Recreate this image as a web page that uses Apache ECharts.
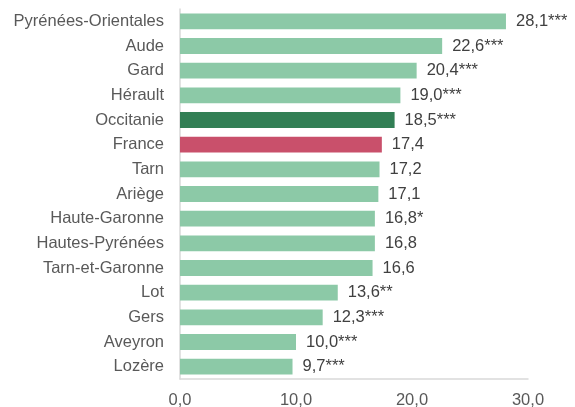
<!DOCTYPE html>
<html>
<head>
<meta charset="utf-8">
<script src="https://cdn.jsdelivr.net/npm/echarts@6/dist/echarts.min.js"></script>
<style>
    html, body {margin: 0; padding: 0; background: #fff;}
    #chart {width: 575px; height: 407px;}
</style>
</head>
<body>
<div id="chart"></div>
<script>
// territoires, taux et seuils de significativité
var territoires = ['Pyrénées-Orientales', 'Aude', 'Gard', 'Hérault', 'Occitanie', 'France', 'Tarn', 'Ariège',
    'Haute-Garonne', 'Hautes-Pyrénées', 'Tarn-et-Garonne', 'Lot', 'Gers', 'Aveyron', 'Lozère'];
var taux = [28.1, 22.6, 20.4, 19.0, 18.5, 17.4, 17.2, 17.1, 16.8, 16.8, 16.6, 13.6, 12.3, 10.0, 9.7];
var signif = ['***', '***', '***', '***', '***', '', '', '', '*', '', '', '**', '***', '***', '***'];

var couleurs = {defaut: '#8CC9A7', Occitanie: '#327F55', France: '#C9506B'};

function fmt(v) {
    return v.toFixed(1).replace('.', ',');
}

var chart = echarts.init(document.getElementById('chart'));

var donnees = taux.map(function (v, i) {
    var nom = territoires[i];
    return {
        value: v,
        itemStyle: {color: couleurs[nom] || couleurs.defaut}
    };
});

chart.setOption({
    animation: false,
    textStyle: {fontFamily: 'Liberation Sans, Arial, sans-serif'},
    grid: {left: 180, right: 47, top: 9, bottom: 28, containLabel: false, outerBoundsMode: 'none'},
    xAxis: {
        type: 'value',
        min: 0,
        max: 30,
        interval: 10,
        axisLine: {show: true, lineStyle: {color: '#D9D9D9', width: 1.5}},
        axisTick: {show: false},
        splitLine: {show: false},
        axisLabel: {
            color: '#595959',
            fontSize: 16.5,
            margin: 13,
            formatter: function (v) { return fmt(v); }
        }
    },
    yAxis: {
        type: 'category',
        inverse: true,
        data: territoires,
        axisLine: {show: true, lineStyle: {color: '#D9D9D9', width: 1.5}},
        axisTick: {show: false},
        axisLabel: {color: '#595959', fontSize: 16.5, margin: 16}
    },
    series: [{
        type: 'bar',
        barWidth: '64%',
        data: donnees,
        label: {
            show: true,
            position: 'right',
            distance: 10,
            color: '#404040',
            fontSize: 16.5,
            formatter: function (p) {
                return fmt(p.value) + signif[p.dataIndex];
            }
        }
    }]
});
</script>
</body>
</html>
